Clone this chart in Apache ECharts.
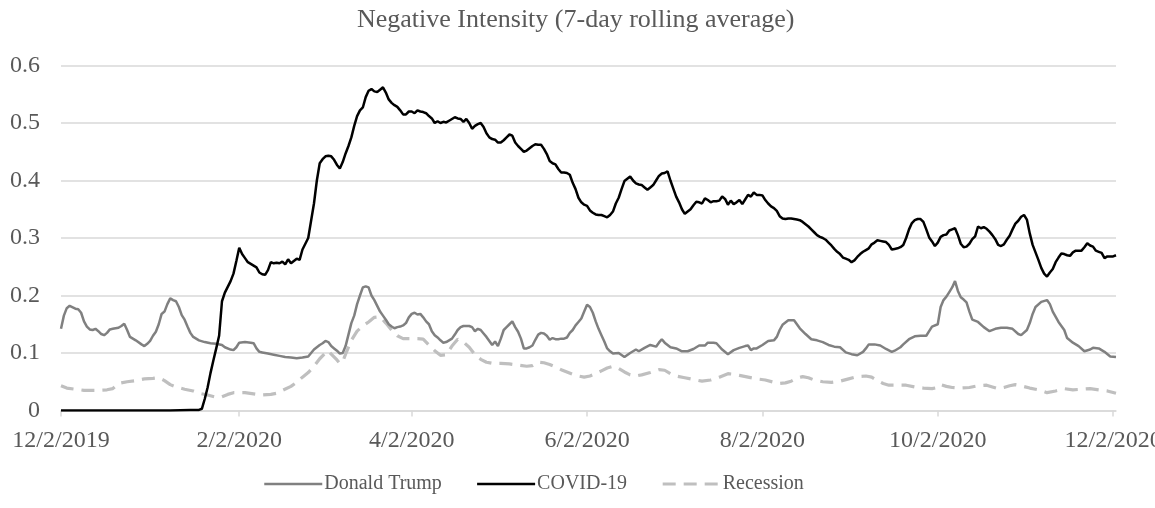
<!DOCTYPE html>
<html>
<head>
<meta charset="utf-8">
<script src="https://cdn.jsdelivr.net/npm/echarts@6/dist/echarts.min.js"></script>
<style>
html,body{margin:0;padding:0;background:#fff;}
#chart{width:1155px;height:508px;}
</style>
</head>
<body>
<div id="chart"></div>
<script>
// ---- DATA ----
var startDate = [2019, 12, 2];   // first category (12/2/2019), daily categories
var dayCount = 368;
var tickLabels = ['12/2/2019', '2/2/2020', '4/2/2020', '6/2/2020', '8/2/2020', '10/2/2020', '12/2/2020'];
var seriesNames = ['Donald Trump', 'COVID-19', 'Recession'];

// [day index from 12/2/2019, value]
var trumpData = [
[0,0.142],[1,0.165],[2,0.178],[3,0.182],[5,0.177],[6,0.176],[7,0.170],[8,0.155],[9,0.146],[10,0.141],
[11,0.140],[12,0.142],[13,0.138],[14,0.133],[15,0.131],[16,0.135],[17,0.141],[18,0.142],[19,0.143],[20,0.144],
[21,0.147],[22,0.151],[23,0.140],[24,0.128],[26,0.122],[28,0.115],[29,0.112],[30,0.116],[31,0.121],[32,0.130],
[33,0.137],[34,0.150],[35,0.168],[36,0.172],[37,0.185],[38,0.195],[39,0.192],[40,0.190],[41,0.180],[42,0.166],
[43,0.158],[44,0.146],[45,0.135],[46,0.128],[48,0.122],[50,0.119],[52,0.117],[54,0.116],[56,0.114],[57,0.110],
[59,0.106],[60,0.105],[61,0.110],[62,0.118],[64,0.119],[66,0.118],[67,0.117],[68,0.108],[69,0.102],[70,0.101],
[72,0.099],[74,0.097],[76,0.095],[78,0.093],[80,0.092],[82,0.091],[84,0.092],[86,0.094],[87,0.100],[88,0.106],
[90,0.114],[91,0.117],[92,0.121],[93,0.119],[94,0.112],[95,0.108],[96,0.104],[97,0.099],[98,0.100],[99,0.112],
[100,0.132],[101,0.152],[102,0.165],[103,0.185],[104,0.200],[105,0.214],[106,0.216],[107,0.214],[108,0.200],[109,0.192],
[110,0.182],[111,0.172],[112,0.165],[113,0.158],[114,0.150],[115,0.146],[116,0.143],[117,0.145],[118,0.146],[119,0.148],
[120,0.152],[121,0.162],[122,0.168],[123,0.170],[124,0.167],[125,0.168],[126,0.162],[127,0.155],[128,0.150],[129,0.138],
[130,0.131],[131,0.127],[132,0.122],[133,0.118],[134,0.119],[135,0.122],[136,0.125],[137,0.132],[138,0.140],[139,0.145],
[140,0.147],[142,0.147],[143,0.145],[144,0.138],[145,0.142],[146,0.140],[147,0.134],[148,0.128],[149,0.121],[150,0.114],
[151,0.120],[152,0.112],[153,0.125],[154,0.140],[155,0.145],[156,0.150],[157,0.155],[158,0.145],[159,0.137],[160,0.125],
[161,0.108],[162,0.108],[163,0.110],[164,0.113],[165,0.123],[166,0.132],[167,0.135],[168,0.134],[169,0.130],[170,0.123],
[171,0.126],[172,0.124],[173,0.124],[174,0.125],[175,0.125],[176,0.127],[177,0.135],[178,0.140],[179,0.148],[180,0.154],
[181,0.160],[182,0.172],[183,0.184],[184,0.180],[185,0.170],[186,0.155],[187,0.142],[188,0.131],[189,0.120],[190,0.108],
[191,0.103],[192,0.099],[194,0.100],[196,0.093],[198,0.100],[200,0.106],[201,0.103],[203,0.109],[205,0.114],[207,0.111],
[208,0.118],[209,0.124],[210,0.118],[212,0.110],[214,0.108],[216,0.103],[218,0.103],[220,0.107],[222,0.113],[224,0.113],
[225,0.118],[227,0.118],[228,0.117],[230,0.106],[232,0.098],[234,0.105],[236,0.109],[238,0.112],[239,0.113],[240,0.105],
[241,0.108],[242,0.108],[244,0.114],[246,0.121],[248,0.122],[249,0.128],[250,0.140],[251,0.149],[253,0.157],[255,0.157],
[256,0.150],[257,0.143],[259,0.133],[261,0.124],[263,0.122],[265,0.119],[267,0.114],[269,0.111],[271,0.110],[273,0.101],
[275,0.098],[277,0.096],[279,0.102],[280,0.108],[281,0.115],[283,0.115],[285,0.113],[287,0.107],[289,0.102],[290,0.104],
[292,0.110],[293,0.115],[295,0.124],[297,0.129],[299,0.130],[301,0.130],[302,0.138],[303,0.146],[305,0.150],[306,0.180],
[307,0.192],[308,0.198],[309,0.206],[310,0.214],[311,0.225],[312,0.208],[313,0.197],[314,0.193],[315,0.188],[316,0.172],
[317,0.158],[319,0.154],[321,0.145],[323,0.138],[325,0.142],[327,0.144],[329,0.144],[331,0.142],[333,0.133],[334,0.131],
[336,0.140],[337,0.152],[338,0.168],[339,0.180],[341,0.189],[343,0.192],[344,0.185],[345,0.172],[347,0.154],[349,0.140],
[350,0.126],[352,0.118],[354,0.112],[356,0.103],[358,0.106],[359,0.109],[361,0.108],[363,0.102],[365,0.094],[367,0.093]
];

var covidData = [
[0,0],[10,0],[20,0],[30,0],[38,0],[45,0.001],[48,0.001],[49,0.003],
[50,0.020],[51,0.040],[52,0.065],[53,0.087],[54,0.108],[55,0.130],[56,0.190],[57,0.205],[58,0.215],[59,0.225],
[60,0.238],[61,0.260],[62,0.283],[63,0.272],[64,0.265],[65,0.258],[66,0.255],[67,0.252],[68,0.249],[69,0.240],
[70,0.237],[71,0.236],[72,0.244],[73,0.258],[74,0.256],[75,0.257],[76,0.256],[77,0.259],[78,0.254],[79,0.263],
[80,0.256],[81,0.260],[82,0.264],[83,0.262],[84,0.280],[85,0.290],[86,0.300],[87,0.330],[88,0.360],[89,0.400],
[90,0.430],[91,0.437],[92,0.442],[93,0.443],[94,0.442],[95,0.436],[96,0.427],[97,0.421],[98,0.432],[99,0.447],
[100,0.460],[101,0.475],[102,0.495],[103,0.512],[104,0.522],[105,0.527],[106,0.545],[107,0.556],[108,0.559],[109,0.555],
[110,0.554],[111,0.558],[112,0.562],[113,0.553],[114,0.541],[115,0.535],[116,0.531],[117,0.528],[118,0.522],[119,0.515],
[120,0.515],[121,0.520],[122,0.520],[123,0.517],[124,0.522],[125,0.520],[126,0.519],[127,0.517],[128,0.512],[129,0.508],
[130,0.500],[131,0.503],[132,0.500],[133,0.502],[134,0.501],[135,0.504],[136,0.507],[137,0.510],[138,0.508],[139,0.507],
[140,0.502],[141,0.507],[142,0.500],[143,0.490],[144,0.495],[145,0.498],[146,0.500],[147,0.493],[148,0.482],[149,0.475],
[150,0.472],[151,0.471],[152,0.466],[153,0.466],[154,0.470],[155,0.475],[156,0.480],[157,0.478],[158,0.466],[159,0.460],
[160,0.455],[161,0.450],[162,0.452],[163,0.456],[164,0.460],[165,0.463],[166,0.462],[167,0.462],[168,0.455],[169,0.446],
[170,0.434],[171,0.430],[172,0.428],[173,0.420],[174,0.414],[175,0.414],[176,0.413],[177,0.410],[178,0.396],[179,0.385],
[180,0.370],[181,0.362],[182,0.358],[183,0.356],[184,0.348],[185,0.344],[186,0.341],[187,0.340],[188,0.340],[189,0.338],
[190,0.336],[191,0.340],[192,0.346],[193,0.360],[194,0.370],[195,0.385],[196,0.399],[197,0.403],[198,0.407],[199,0.400],
[200,0.395],[201,0.393],[202,0.392],[203,0.388],[204,0.384],[205,0.388],[206,0.392],[207,0.400],[208,0.408],[209,0.412],
[210,0.413],[211,0.416],[212,0.400],[213,0.386],[214,0.372],[215,0.362],[216,0.350],[217,0.342],[218,0.346],[219,0.350],
[220,0.357],[221,0.363],[222,0.362],[223,0.360],[224,0.369],[225,0.366],[226,0.362],[227,0.364],[228,0.364],[229,0.365],
[230,0.372],[231,0.368],[232,0.358],[233,0.365],[234,0.359],[235,0.362],[236,0.366],[237,0.359],[238,0.367],[239,0.375],
[240,0.372],[241,0.379],[242,0.375],[243,0.375],[244,0.374],[245,0.366],[246,0.360],[247,0.355],[248,0.352],[249,0.347],
[250,0.338],[251,0.334],[252,0.333],[253,0.334],[254,0.334],[255,0.333],[256,0.332],[257,0.331],[258,0.328],[259,0.324],
[260,0.320],[261,0.315],[262,0.310],[263,0.305],[264,0.302],[265,0.300],[266,0.297],[267,0.292],[268,0.287],[269,0.281],
[270,0.276],[271,0.272],[272,0.266],[273,0.264],[274,0.262],[275,0.258],[276,0.261],[277,0.267],[278,0.272],[279,0.276],
[280,0.279],[281,0.282],[282,0.289],[283,0.292],[284,0.296],[285,0.295],[286,0.294],[287,0.293],[288,0.288],[289,0.280],
[290,0.281],[291,0.282],[292,0.284],[293,0.288],[294,0.300],[295,0.315],[296,0.326],[297,0.331],[298,0.333],[299,0.333],
[300,0.328],[301,0.315],[302,0.301],[303,0.294],[304,0.286],[305,0.292],[306,0.302],[307,0.305],[308,0.306],[309,0.313],
[310,0.315],[311,0.317],[312,0.305],[313,0.290],[314,0.284],[315,0.285],[316,0.290],[317,0.298],[318,0.303],[319,0.320],
[320,0.317],[321,0.319],[322,0.316],[323,0.311],[324,0.305],[325,0.298],[326,0.288],[327,0.286],[328,0.289],[329,0.297],
[330,0.304],[331,0.315],[332,0.325],[333,0.330],[334,0.337],[335,0.340],[336,0.332],[337,0.308],[338,0.288],[339,0.275],
[340,0.262],[341,0.248],[342,0.238],[343,0.233],[344,0.240],[345,0.246],[346,0.258],[347,0.266],[348,0.273],[349,0.272],
[350,0.270],[351,0.269],[352,0.275],[353,0.278],[354,0.278],[355,0.278],[356,0.284],[357,0.291],[358,0.287],[359,0.285],
[360,0.278],[361,0.276],[362,0.274],[363,0.265],[364,0.268],[365,0.268],[366,0.268],[367,0.270]
];

var recessionData = [
[0,0.043],[2,0.039],[5,0.037],[8,0.035],[12,0.035],[16,0.036],[18,0.038],[20,0.047],[23,0.050],[26,0.052],
[29,0.055],[32,0.056],[34,0.057],[36,0.052],[38,0.045],[40,0.041],[43,0.037],[46,0.034],[48,0.030],[51,0.027],
[54,0.023],[56,0.024],[58,0.028],[60,0.031],[62,0.031],[64,0.031],[67,0.029],[70,0.027],[73,0.028],[75,0.030],
[77,0.035],[80,0.042],[82,0.049],[84,0.058],[86,0.066],[88,0.077],[90,0.090],[92,0.100],[93,0.104],[94,0.098],
[96,0.088],[97,0.082],[98,0.085],[99,0.098],[101,0.122],[103,0.138],[105,0.147],[107,0.154],[109,0.162],[111,0.163],
[113,0.152],[115,0.140],[117,0.130],[119,0.125],[121,0.125],[124,0.125],[126,0.124],[128,0.114],[130,0.104],[132,0.096],
[134,0.097],[136,0.112],[138,0.124],[140,0.119],[142,0.110],[144,0.097],[146,0.089],[148,0.084],[150,0.082],[153,0.082],
[156,0.081],[159,0.079],[162,0.077],[164,0.078],[166,0.084],[168,0.083],[170,0.080],[172,0.076],[174,0.071],[176,0.067],
[178,0.063],[180,0.060],[182,0.058],[184,0.060],[186,0.064],[188,0.069],[190,0.074],[192,0.077],[194,0.073],[196,0.067],
[198,0.062],[200,0.060],[202,0.062],[205,0.066],[208,0.071],[210,0.070],[212,0.064],[214,0.060],[217,0.057],[220,0.054],
[223,0.051],[226,0.053],[229,0.058],[232,0.064],[234,0.063],[236,0.061],[239,0.058],[242,0.055],[245,0.053],[248,0.049],
[250,0.047],[252,0.048],[254,0.051],[256,0.056],[258,0.059],[260,0.057],[262,0.053],[265,0.050],[268,0.049],[271,0.051],
[274,0.055],[277,0.059],[280,0.060],[282,0.058],[284,0.052],[286,0.047],[288,0.044],[291,0.044],[294,0.044],[297,0.041],
[300,0.039],[303,0.038],[305,0.040],[306,0.045],[308,0.042],[310,0.040],[313,0.039],[316,0.040],[319,0.043],[322,0.044],
[324,0.041],[326,0.038],[328,0.040],[330,0.043],[332,0.045],[334,0.043],[337,0.039],[340,0.036],[343,0.031],[346,0.034],
[349,0.038],[352,0.036],[355,0.037],[358,0.038],[361,0.036],[364,0.034],[367,0.030]
];

// ---- CATEGORIES (daily dates) ----
var categories = [];
(function () {
  var d = new Date(startDate[0], startDate[1] - 1, startDate[2]);
  for (var i = 0; i < dayCount; i++) {
    categories.push((d.getMonth() + 1) + '/' + d.getDate() + '/' + d.getFullYear());
    d.setDate(d.getDate() + 1);
  }
})();

var FONT = "'Liberation Serif', 'Times New Roman', serif";
var TXT = '#595959';
function isTick(idx, val) { return tickLabels.indexOf(val) >= 0; }

var chart = echarts.init(document.getElementById('chart'), null, { renderer: 'canvas' });
chart.setOption({
  animation: false,
  backgroundColor: '#ffffff',
  title: {
    text: 'Negative Intensity (7-day rolling average)',
    left: 352,
    top: 2,
    textStyle: { fontFamily: FONT, fontSize: 26, fontWeight: 'normal', color: TXT }
  },
  legend: {
    data: seriesNames,
    left: 258,
    top: 469,
    itemWidth: 58,
    itemHeight: 14,
    itemGap: 34,
    itemStyle: { opacity: 0 },
    lineStyle: { width: 'inherit' },
    textStyle: { fontFamily: FONT, fontSize: 20, color: TXT, padding: [0, 0, 0, -3] }
  },
  grid: { left: 61, right: 39, top: 65.5, bottom: 97.5, containLabel: false, outerBoundsMode: 'none' },
  xAxis: {
    type: 'category',
    data: categories,
    boundaryGap: false,
    axisLine: { show: true, lineStyle: { color: '#d9d9d9', width: 1.5 } },
    axisTick: { show: true, interval: isTick, length: 6, lineStyle: { color: '#d9d9d9', width: 1.5 } },
    axisLabel: { interval: isTick, margin: 18, fontFamily: FONT, fontSize: 24, color: TXT, hideOverlap: false },
    splitLine: { show: false }
  },
  yAxis: {
    type: 'value',
    min: 0,
    max: 0.6,
    interval: 0.1,
    axisLine: { show: false },
    axisTick: { show: false },
    axisLabel: {
      margin: 21, fontFamily: FONT, fontSize: 24, color: TXT,
      formatter: function (v) { return v === 0 ? '0' : v.toFixed(1); }
    },
    splitLine: { show: true, lineStyle: { color: '#d9d9d9', width: 1.5 } }
  },
  series: [
    {
      name: seriesNames[0], type: 'line', data: trumpData, symbol: 'none', showSymbol: false,
      lineStyle: { color: '#808080', width: 2.5 }, itemStyle: { color: '#808080' }, z: 2
    },
    {
      name: seriesNames[1], type: 'line', data: covidData, symbol: 'none', showSymbol: false,
      lineStyle: { color: '#000000', width: 2.5 }, itemStyle: { color: '#000000' }, z: 3
    },
    {
      name: seriesNames[2], type: 'line', data: recessionData, symbol: 'none', showSymbol: false,
      lineStyle: { color: '#bfbfbf', width: 3.2, type: [13, 8] }, itemStyle: { color: '#bfbfbf' }, z: 1
    }
  ]
});
</script>
</body>
</html>
